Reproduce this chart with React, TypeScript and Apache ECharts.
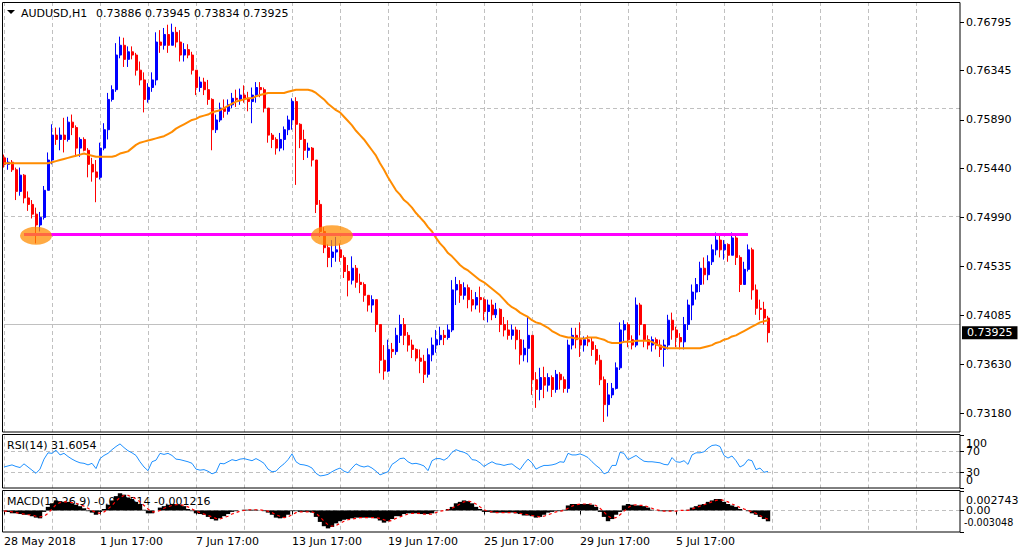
import React, { useEffect, useRef } from "react";
import * as echarts from "echarts";

// ---------------- data (4-hour buckets of the H1 AUDUSD chart) ----------------
const symbolTitle = "AUDUSD,H1";
const lastBar = { open: 0.73886, high: 0.73945, low: 0.73834, close: 0.73925 };
const rsiLast = 31.6054;
const macdLast = -0.001514;
const signalLast = -0.001216;

const dateTickLabels = [
  "28 May 2018", "1 Jun 17:00", "7 Jun 17:00", "13 Jun 17:00",
  "19 Jun 17:00", "25 Jun 17:00", "29 Jun 17:00", "5 Jul 17:00",
];
const priceTicks = [0.76795, 0.76345, 0.7589, 0.7544, 0.7499, 0.74535, 0.74085, 0.7363, 0.7318];
const rsiTicks = [100, 70, 30, 0];
const rsiGuides = [70, 30];
const macdTicks = [0.002743, 0, -0.003048];

const open = [
  0.7554,0.7548,0.7550,0.7543,0.7523,0.7538,0.7517,0.7511,0.7502,0.7492,
  0.7499,0.7524,0.7552,0.7575,0.7571,0.7575,0.7571,0.7587,0.7582,0.7563,
  0.7571,0.7561,0.7548,0.7541,0.7536,0.7563,0.7580,0.7608,0.7617,0.7649,
  0.7658,0.7645,0.7652,0.7649,0.7635,0.7626,0.7608,0.7619,0.7626,0.7661,
  0.7658,0.7668,0.7658,0.7670,0.7661,0.7649,0.7654,0.7649,0.7635,0.7619,
  0.7624,0.7617,0.7608,0.7580,0.7589,0.7600,0.7597,0.7603,0.7609,0.7608,
  0.7612,0.7609,0.7606,0.7612,0.7619,0.7617,0.7600,0.7575,0.7571,0.7563,
  0.7571,0.7580,0.7589,0.7606,0.7585,0.7571,0.7561,0.7563,0.7552,0.7511,
  0.7486,0.7471,0.7462,0.7467,0.7469,0.7462,0.7449,0.7441,0.7452,0.7439,
  0.7437,0.7427,0.7418,0.7423,0.7400,0.7367,0.7357,0.7377,0.7375,0.7390,
  0.7400,0.7390,0.7381,0.7377,0.7369,0.7366,0.7354,0.7372,0.7381,0.7386,
  0.7390,0.7388,0.7395,0.7432,0.7437,0.7427,0.7434,0.7423,0.7418,0.7425,
  0.7423,0.7412,0.7418,0.7409,0.7414,0.7400,0.7395,0.7390,0.7395,0.7386,
  0.7372,0.7378,0.7390,0.7349,0.7340,0.7351,0.7344,0.7351,0.7340,0.7354,
  0.7349,0.7341,0.7381,0.7390,0.7386,0.7381,0.7386,0.7384,0.7377,0.7367,
  0.7349,0.7326,0.7335,0.7341,0.7360,0.7395,0.7400,0.7386,0.7381,0.7418,
  0.7400,0.7386,0.7381,0.7386,0.7381,0.7377,0.7381,0.7404,0.7395,0.7388,
  0.7384,0.7400,0.7418,0.7430,0.7437,0.7452,0.7446,0.7458,0.7469,0.7478,
  0.7469,0.7474,0.7464,0.7480,0.7462,0.7437,0.7451,0.7469,0.7432,0.7415,
  0.7414,0.7406,
];
const high = [
  0.7557,0.7554,0.7552,0.7545,0.7545,0.7539,0.7523,0.7515,0.7508,0.7504,
  0.7528,0.7559,0.7585,0.7582,0.7582,0.7591,0.7592,0.7594,0.7584,0.7573,
  0.7573,0.7563,0.7554,0.7552,0.7568,0.7586,0.7614,0.7621,0.7660,0.7666,
  0.7665,0.7657,0.7657,0.7651,0.7643,0.7633,0.7623,0.7633,0.7670,0.7672,
  0.7674,0.7677,0.7678,0.7675,0.7672,0.7660,0.7659,0.7652,0.7635,0.7629,
  0.7628,0.7626,0.7609,0.7594,0.7605,0.7608,0.7608,0.7614,0.7617,0.7618,
  0.7621,0.7615,0.7619,0.7624,0.7624,0.7619,0.7600,0.7577,0.7573,0.7577,
  0.7583,0.7593,0.7609,0.7610,0.7586,0.7580,0.7568,0.7564,0.7552,0.7515,
  0.7490,0.7474,0.7478,0.7481,0.7475,0.7464,0.7455,0.7463,0.7455,0.7447,
  0.7439,0.7427,0.7427,0.7423,0.7400,0.7381,0.7386,0.7383,0.7397,0.7409,
  0.7406,0.7393,0.7386,0.7378,0.7377,0.7372,0.7378,0.7388,0.7395,0.7398,
  0.7395,0.7400,0.7441,0.7444,0.7441,0.7439,0.7437,0.7432,0.7430,0.7435,
  0.7425,0.7423,0.7423,0.7420,0.7415,0.7407,0.7404,0.7400,0.7398,0.7395,
  0.7386,0.7407,0.7390,0.7356,0.7360,0.7361,0.7355,0.7353,0.7358,0.7356,
  0.7352,0.7386,0.7397,0.7397,0.7402,0.7389,0.7390,0.7388,0.7381,0.7372,
  0.7352,0.7346,0.7346,0.7365,0.7402,0.7404,0.7402,0.7390,0.7425,0.7420,
  0.7400,0.7390,0.7389,0.7388,0.7386,0.7386,0.7409,0.7411,0.7398,0.7392,
  0.7407,0.7423,0.7437,0.7443,0.7458,0.7462,0.7464,0.7474,0.7485,0.7483,
  0.7478,0.7475,0.7485,0.7483,0.7464,0.7458,0.7474,0.7471,0.7437,0.7423,
  0.7421,0.7408,
];
const low = [
  0.7545,0.7543,0.7541,0.7515,0.7519,0.7512,0.7505,0.7498,0.7475,0.7486,
  0.7497,0.7524,0.7548,0.7566,0.7561,0.7559,0.7569,0.7575,0.7555,0.7555,
  0.7560,0.7536,0.7532,0.7513,0.7534,0.7561,0.7571,0.7606,0.7615,0.7646,
  0.7638,0.7638,0.7645,0.7630,0.7621,0.7596,0.7605,0.7615,0.7621,0.7651,
  0.7654,0.7651,0.7658,0.7656,0.7643,0.7643,0.7646,0.7631,0.7612,0.7615,
  0.7612,0.7603,0.7561,0.7577,0.7587,0.7591,0.7594,0.7600,0.7601,0.7603,
  0.7605,0.7597,0.7586,0.7605,0.7610,0.7596,0.7568,0.7563,0.7557,0.7560,
  0.7561,0.7575,0.7580,0.7529,0.7563,0.7552,0.7554,0.7546,0.7503,0.7481,
  0.7466,0.7453,0.7453,0.7458,0.7458,0.7443,0.7426,0.7437,0.7434,0.7429,
  0.7421,0.7412,0.7411,0.7393,0.7355,0.7349,0.7356,0.7369,0.7372,0.7383,
  0.7381,0.7375,0.7369,0.7366,0.7355,0.7346,0.7351,0.7366,0.7374,0.7381,
  0.7381,0.7386,0.7393,0.7418,0.7420,0.7423,0.7415,0.7412,0.7414,0.7411,
  0.7404,0.7402,0.7404,0.7406,0.7393,0.7389,0.7386,0.7386,0.7377,0.7363,
  0.7366,0.7365,0.7335,0.7323,0.7330,0.7332,0.7338,0.7333,0.7337,0.7340,
  0.7337,0.7337,0.7377,0.7378,0.7370,0.7375,0.7380,0.7371,0.7363,0.7344,
  0.7310,0.7315,0.7332,0.7340,0.7358,0.7383,0.7379,0.7377,0.7379,0.7390,
  0.7379,0.7377,0.7375,0.7377,0.7370,0.7361,0.7377,0.7386,0.7379,0.7377,
  0.7377,0.7395,0.7404,0.7423,0.7430,0.7437,0.7441,0.7455,0.7464,0.7462,
  0.7460,0.7458,0.7464,0.7455,0.7430,0.7437,0.7449,0.7423,0.7409,0.7404,
  0.7400,0.73834,
];
const close = [
  0.7548,0.7550,0.7543,0.7523,0.7538,0.7517,0.7511,0.7502,0.7492,0.7499,
  0.7524,0.7552,0.7575,0.7571,0.7575,0.7571,0.7587,0.7582,0.7563,0.7571,
  0.7561,0.7548,0.7541,0.7536,0.7563,0.7580,0.7608,0.7617,0.7649,0.7658,
  0.7645,0.7652,0.7649,0.7635,0.7626,0.7608,0.7619,0.7626,0.7661,0.7658,
  0.7668,0.7658,0.7670,0.7661,0.7649,0.7654,0.7649,0.7635,0.7619,0.7624,
  0.7617,0.7608,0.7580,0.7589,0.7600,0.7597,0.7603,0.7609,0.7608,0.7612,
  0.7609,0.7606,0.7612,0.7619,0.7617,0.7600,0.7575,0.7571,0.7563,0.7571,
  0.7580,0.7589,0.7606,0.7585,0.7571,0.7561,0.7563,0.7552,0.7511,0.7486,
  0.7471,0.7462,0.7467,0.7469,0.7462,0.7449,0.7441,0.7452,0.7439,0.7437,
  0.7427,0.7418,0.7423,0.7400,0.7367,0.7357,0.7377,0.7375,0.7390,0.7400,
  0.7390,0.7381,0.7377,0.7369,0.7366,0.7354,0.7372,0.7381,0.7386,0.7390,
  0.7388,0.7395,0.7432,0.7437,0.7427,0.7434,0.7423,0.7418,0.7425,0.7423,
  0.7412,0.7418,0.7409,0.7414,0.7400,0.7395,0.7390,0.7395,0.7386,0.7372,
  0.7378,0.7390,0.7349,0.7340,0.7351,0.7344,0.7351,0.7340,0.7354,0.7349,
  0.7341,0.7381,0.7390,0.7386,0.7381,0.7386,0.7384,0.7377,0.7367,0.7349,
  0.7326,0.7335,0.7341,0.7360,0.7395,0.7400,0.7386,0.7381,0.7418,0.7400,
  0.7386,0.7381,0.7386,0.7381,0.7377,0.7381,0.7404,0.7395,0.7388,0.7384,
  0.7400,0.7418,0.7430,0.7437,0.7452,0.7446,0.7458,0.7469,0.7478,0.7469,
  0.7474,0.7464,0.7480,0.7462,0.7437,0.7451,0.7469,0.7432,0.7415,0.7414,
  0.7406,0.73925,
];
const movingAverage = [
  0.7549,0.7549,0.7549,0.7549,0.7549,0.7549,0.7549,0.7549,0.7549,0.7549,
  0.7549,0.7549,0.7550,0.7551,0.7552,0.7553,0.7554,0.7555,0.7556,0.7557,
  0.7558,0.7557,0.7556,0.7555,0.7555,0.7555,0.7555,0.7555,0.7556,0.7558,
  0.7559,0.7560,0.7563,0.7566,0.7568,0.7569,0.7570,0.7571,0.7572,0.7573,
  0.7574,0.7576,0.7578,0.7581,0.7583,0.7585,0.7587,0.7589,0.7590,0.7592,
  0.7593,0.7594,0.7596,0.7597,0.7598,0.7600,0.7602,0.7604,0.7606,0.7607,
  0.7608,0.7609,0.7609,0.7611,0.7612,0.7613,0.7614,0.7614,0.7614,0.7614,
  0.7614,0.7615,0.7616,0.7617,0.7617,0.7617,0.7617,0.7616,0.7614,0.7611,
  0.7608,0.7604,0.7601,0.7598,0.7596,0.7592,0.7588,0.7584,0.7579,0.7575,
  0.7571,0.7566,0.7561,0.7556,0.7549,0.7543,0.7536,0.7530,0.7524,0.7520,
  0.7515,0.7512,0.7508,0.7503,0.7499,0.7495,0.7490,0.7486,0.7480,0.7475,
  0.7471,0.7466,0.7463,0.7459,0.7455,0.7452,0.7450,0.7447,0.7444,0.7441,
  0.7439,0.7436,0.7433,0.7430,0.7427,0.7423,0.7419,0.7416,0.7414,0.7411,
  0.7409,0.7407,0.7404,0.7402,0.7401,0.7399,0.7397,0.7394,0.7392,0.7390,
  0.7389,0.7388,0.7388,0.7387,0.7387,0.7387,0.7388,0.7388,0.7388,0.7387,
  0.7386,0.7384,0.7383,0.7383,0.7383,0.7384,0.7384,0.7384,0.7385,0.7385,
  0.7385,0.7385,0.7384,0.7382,0.7380,0.7379,0.7378,0.7378,0.7378,0.7378,
  0.7378,0.7378,0.7378,0.7378,0.7378,0.7379,0.7380,0.7381,0.7383,0.7384,
  0.7386,0.7387,0.7389,0.7390,0.7392,0.7394,0.7396,0.7398,0.7400,0.7402,
  0.7403,0.7404,
];
const rsi = [
  40,42,44,41,39,46,40,34,28,36,
  55,67,66,72,63,66,60,55,51,48,
  47,44,47,37,56,62,66,73,79,84,
  77,71,67,62,50,40,33,50,53,66,
  64,66,62,55,54,52,50,47,36,34,
  35,32,27,30,47,46,50,54,52,55,
  56,54,52,56,52,47,36,31,32,40,
  46,54,65,50,45,44,42,38,28,23,
  24,26,31,35,38,32,29,38,46,42,
  40,42,38,32,25,28,31,45,50,56,
  57,50,46,47,45,42,33,52,56,56,
  53,58,68,73,70,68,64,54,53,48,
  41,46,50,46,45,43,45,46,40,35,
  46,55,48,36,40,43,43,44,46,50,
  49,66,63,63,65,62,58,50,43,37,
  27,30,43,43,68,66,54,58,62,56,
  51,50,50,49,48,45,44,58,50,49,
  52,45,63,67,67,69,76,81,82,79,
  62,57,61,52,40,44,54,52,35,38,
  30,31.6054,
];
const macdMain = [
  -0.0001,-0.0002,-0.0004,-0.0004,-0.0005,-0.0006,-0.0006,-0.0008,-0.0010,-0.0011,
  -0.0002,0.0005,0.0010,0.0014,0.0013,0.0012,0.0012,0.0010,0.0008,0.0006,
  0.0003,-0.0001,-0.0003,-0.0006,-0.0002,0.0002,0.0008,0.0014,0.0020,0.0024,
  0.0022,0.0018,0.0016,0.0012,0.0008,0.0001,-0.0004,-0.0004,0.0000,0.0004,
  0.0006,0.0008,0.0009,0.0009,0.0008,0.0006,0.0002,-0.0001,-0.0004,-0.0005,
  -0.0006,-0.0009,-0.0012,-0.0014,-0.0011,-0.0008,-0.0005,-0.0002,-0.0001,0.0000,
  0.0001,0.0001,0.0001,0.0001,0.0000,-0.0001,-0.0003,-0.0006,-0.0010,-0.0011,
  -0.0010,-0.0006,-0.0001,-0.0001,-0.0002,-0.0002,-0.0002,-0.0003,-0.0009,-0.0016,
  -0.0022,-0.0025,-0.0023,-0.0018,-0.0015,-0.0013,-0.0012,-0.0011,-0.0010,-0.0010,
  -0.0010,-0.0010,-0.0010,-0.0011,-0.0014,-0.0017,-0.0015,-0.0012,-0.0008,-0.0008,
  -0.0005,-0.0004,-0.0004,-0.0004,-0.0005,-0.0005,-0.0005,-0.0004,-0.0001,0.0000,
  0.0000,0.0002,0.0005,0.0010,0.0012,0.0014,0.0013,0.0010,0.0005,0.0002,
  -0.0002,-0.0002,-0.0003,-0.0003,-0.0003,-0.0003,-0.0003,-0.0003,-0.0004,-0.0005,
  -0.0007,-0.0007,-0.0008,-0.0010,-0.0009,-0.0006,-0.0003,-0.0002,-0.0001,-0.0001,
  0.0001,0.0007,0.0009,0.0009,0.0009,0.0009,0.0009,0.0008,0.0005,-0.0002,
  -0.0009,-0.0015,-0.0012,-0.0006,-0.0002,0.0007,0.0009,0.0008,0.0007,0.0007,
  0.0006,0.0004,0.0001,0.0000,-0.0001,-0.0001,-0.0001,-0.0001,0.0000,0.0000,
  0.0000,0.0001,0.0004,0.0006,0.0008,0.0009,0.0012,0.0014,0.0016,0.0016,
  0.0012,0.0009,0.0007,0.0005,0.0002,0.0000,-0.0001,-0.0004,-0.0006,-0.0009,
  -0.0012,-0.001514,
];
const macdSignal = [
  -0.0001,-0.0001,-0.0002,-0.0003,-0.0004,-0.0005,-0.0006,-0.0006,-0.0008,-0.0009,
  -0.0008,-0.0004,0.0002,0.0008,0.0011,0.0012,0.0012,0.0011,0.0010,0.0008,
  0.0006,0.0003,0.0000,-0.0003,-0.0004,-0.0002,0.0002,0.0007,0.0013,0.0018,
  0.0021,0.0021,0.0019,0.0016,0.0012,0.0007,0.0002,-0.0002,-0.0002,0.0000,
  0.0003,0.0005,0.0007,0.0008,0.0008,0.0007,0.0005,0.0002,-0.0001,-0.0003,
  -0.0005,-0.0007,-0.0009,-0.0011,-0.0012,-0.0010,-0.0008,-0.0005,-0.0003,-0.0001,
  0.0000,0.0001,0.0001,0.0001,0.0001,0.0000,-0.0001,-0.0003,-0.0006,-0.0008,
  -0.0010,-0.0009,-0.0006,-0.0003,-0.0002,-0.0002,-0.0002,-0.0002,-0.0004,-0.0009,
  -0.0015,-0.0020,-0.0022,-0.0021,-0.0018,-0.0015,-0.0013,-0.0012,-0.0011,-0.0010,
  -0.0010,-0.0010,-0.0010,-0.0010,-0.0011,-0.0013,-0.0015,-0.0014,-0.0011,-0.0009,
  -0.0007,-0.0005,-0.0004,-0.0004,-0.0004,-0.0005,-0.0005,-0.0005,-0.0003,-0.0001,
  0.0000,0.0001,0.0003,0.0006,0.0009,0.0012,0.0013,0.0012,0.0009,0.0005,
  0.0001,-0.0001,-0.0002,-0.0003,-0.0003,-0.0003,-0.0003,-0.0003,-0.0003,-0.0004,
  -0.0005,-0.0006,-0.0007,-0.0008,-0.0009,-0.0008,-0.0006,-0.0004,-0.0002,-0.0001,
  0.0000,0.0003,0.0006,0.0008,0.0009,0.0009,0.0009,0.0009,0.0007,0.0003,
  -0.0002,-0.0008,-0.0011,-0.0010,-0.0006,-0.0001,0.0004,0.0007,0.0008,0.0007,
  0.0007,0.0005,0.0003,0.0001,0.0000,-0.0001,-0.0001,-0.0001,-0.0001,0.0000,
  0.0000,0.0000,0.0002,0.0004,0.0006,0.0008,0.0010,0.0012,0.0014,0.0015,
  0.0014,0.0012,0.0009,0.0007,0.0004,0.0002,0.0000,-0.0002,-0.0004,-0.0007,
  -0.0010,-0.001216,
];

// support level drawn by hand on the chart (magenta) and the two touch points
const supportLevel = { price: 0.74836, fromSlot: 5, toSlot: 186 };
const touchPoints = [
  { slot: 8, price: 0.7482 },
  { slot: 82, price: 0.7482 },
];

// ---------------- layout / style ----------------
const FONT = '"DejaVu Sans", Tahoma, sans-serif';
const SLOT_COUNT = 240;
const SLOTS_PER_LABEL = 24;
const SLOTS_PER_GRIDLINE = 12;
const PRICE_MIN = 0.73007;
const PRICE_MAX = 0.7698;
const GRID_LEFT = 4;
const GRID_RIGHT = 60;
const RSI_TOP = 435.5;
const RSI_H = 52.5;
const MACD_TOP = 490.8;
const MACD_H = 41.5;
const touchSizes = [[32, 18], [42, 21]];

const txt = { fontFamily: FONT, fontSize: 11, color: "#000" };
const dashed = { color: "#C0C0C0", type: [4, 3], width: 1 };

const clamp = (v: number, a: number, b: number) => Math.min(b, Math.max(a, v));

function buildOption() {
  const slots = Array.from({ length: SLOT_COUNT }, (_, i) => String(i));
  const candles = close.map((c, i) => [open[i], c, low[i], high[i]]);
  const isLabelSlot = (i: number) =>
    i % SLOTS_PER_LABEL === 0 && i / SLOTS_PER_LABEL < dateTickLabels.length;

  const xAxisFor = (gridIndex: number, bottom: boolean) => ({
    type: "category",
    gridIndex,
    data: slots,
    boundaryGap: false,
    axisLine: { show: false },
    axisTick: bottom
      ? { show: true, interval: (i: number) => isLabelSlot(i), length: 4, lineStyle: { color: "#000" } }
      : { show: false },
    axisLabel: bottom
      ? {
          show: true,
          interval: (i: number) => isLabelSlot(i),
          formatter: (_v: string, i: number) =>
            isLabelSlot(i) ? dateTickLabels[i / SLOTS_PER_LABEL] : "",
          align: "left",
          margin: 4,
          ...txt,
        }
      : { show: false },
    splitLine: { show: true, interval: SLOTS_PER_GRIDLINE - 1, lineStyle: dashed },
  });

  const gridBase = { left: GRID_LEFT, right: GRID_RIGHT, outerBoundsMode: "none", containLabel: false };

  // indicator scale labels (MT4 keeps the extreme labels inside the pane)
  const rsiLabelY = (v: number) =>
    clamp(RSI_TOP + ((100 - v) / 100) * RSI_H, RSI_TOP + 7.5, RSI_TOP + RSI_H - 7.5);
  const macdMax = macdTicks[0];
  const macdMin = macdTicks[2];
  const macdLabelY = (v: number) =>
    clamp(MACD_TOP + ((macdMax - v) / (macdMax - macdMin)) * MACD_H, MACD_TOP + 9.2, MACD_TOP + MACD_H - 10);
  const scaleText = (label: string, y: number, size = 11) => ({
    type: "text", z: 100, silent: true, x: 966, y,
    style: { text: label, font: `${size}px ${FONT}`, fill: "#000", verticalAlign: "middle" },
  });
  const indicatorLabels = [
    ...rsiTicks.map((v) => scaleText(String(v), rsiLabelY(v))),
    ...macdTicks.map((v) =>
      v === 0
        ? scaleText("0.00", macdLabelY(v))
        : v < 0
        ? { ...scaleText(v.toFixed(6), macdLabelY(v), 9.6), x: 964 }
        : scaleText(v.toFixed(6), macdLabelY(v))
    ),
  ];

  return {
    animation: false,
    backgroundColor: "#fff",
    grid: [
      { ...gridBase, top: 2, height: 430 },
      { ...gridBase, top: RSI_TOP, height: RSI_H },
      { ...gridBase, top: MACD_TOP, height: MACD_H },
    ],
    xAxis: [xAxisFor(0, false), xAxisFor(1, false), xAxisFor(2, true)],
    yAxis: [
      {
        type: "value",
        gridIndex: 0,
        position: "right",
        min: PRICE_MIN,
        max: PRICE_MAX,
        axisLine: { show: false },
        splitLine: { show: false },
        axisTick: { show: true, length: 4, customValues: priceTicks, lineStyle: { color: "#000" } },
        axisLabel: { customValues: priceTicks, formatter: (v: number) => v.toFixed(5), margin: 6, ...txt },
      },
      {
        type: "value",
        gridIndex: 1,
        position: "right",
        min: 0,
        max: 100,
        axisLine: { show: false },
        splitLine: { show: false },
        axisTick: { show: true, length: 4, customValues: rsiTicks, lineStyle: { color: "#000" } },
        axisLabel: { show: false },
      },
      {
        type: "value",
        gridIndex: 2,
        position: "right",
        min: macdMin,
        max: macdMax,
        axisLine: { show: false },
        splitLine: { show: false },
        axisTick: { show: true, length: 4, customValues: macdTicks, lineStyle: { color: "#000" } },
        axisLabel: { show: false },
      },
      {
        // current-price tag on the price scale
        type: "value",
        gridIndex: 0,
        position: "right",
        min: PRICE_MIN,
        max: PRICE_MAX,
        axisLine: { show: false },
        splitLine: { show: false },
        axisTick: { show: false },
        axisLabel: {
          customValues: [lastBar.close],
          formatter: (v: number) => v.toFixed(5),
          margin: 2,
          fontFamily: FONT,
          fontSize: 11,
          color: "#fff",
          backgroundColor: "#000",
          padding: [1, 5, 1, 5],
        },
      },
    ],
    graphic: [
      { type: "rect", z: 100, silent: true, shape: { x: 2.5, y: 2.5, width: 957.5, height: 429.5 }, style: { fill: "none", stroke: "#000", lineWidth: 1 } },
      { type: "rect", z: 100, silent: true, shape: { x: 2.5, y: 434.5, width: 957.5, height: 53.5 }, style: { fill: "none", stroke: "#000", lineWidth: 1 } },
      { type: "rect", z: 100, silent: true, shape: { x: 2.5, y: 490.5, width: 957.5, height: 41.5 }, style: { fill: "none", stroke: "#000", lineWidth: 1 } },
      { type: "polygon", z: 100, silent: true, shape: { points: [[7, 10], [15, 10], [11, 14]] }, style: { fill: "#000" } },
      { type: "text", z: 100, silent: true, x: 21, y: 13, style: { text: symbolTitle, font: `11px ${FONT}`, fill: "#000", verticalAlign: "middle" } },
      {
        type: "text", z: 100, silent: true, x: 96, y: 13,
        style: {
          text: [lastBar.open, lastBar.high, lastBar.low, lastBar.close].map((v) => v.toFixed(5)).join(" "),
          font: `11px ${FONT}`, fill: "#000", verticalAlign: "middle",
        },
      },
      { type: "text", z: 100, silent: true, x: 7, y: 445, style: { text: `RSI(14) ${rsiLast.toFixed(4)}`, font: `11px ${FONT}`, fill: "#000", verticalAlign: "middle" } },
      {
        type: "text", z: 0, silent: true, x: 7, y: 501.5,
        style: { text: `MACD(12,26,9) ${macdLast.toFixed(6)} ${signalLast.toFixed(6)}`, font: `11px ${FONT}`, fill: "#000", verticalAlign: "middle" },
      },
      ...indicatorLabels,
    ],
    series: [
      {
        type: "candlestick",
        xAxisIndex: 0,
        yAxisIndex: 0,
        data: candles,
        barWidth: 2.5,
        z: 2,
        itemStyle: { color: "#0000FF", color0: "#FF0000", borderColor: "#0000FF", borderColor0: "#FF0000", borderWidth: 1 },
        markLine: {
          z: 1,
          silent: true,
          animation: false,
          symbol: ["none", "none"],
          label: { show: false },
          lineStyle: dashed,
          data: [
            ...priceTicks.map((v) => ({ yAxis: v })),
            { yAxis: lastBar.close, lineStyle: { color: "#C0C0C0", type: "solid", width: 1 } },
          ],
        },
      },
      {
        type: "line",
        xAxisIndex: 0,
        yAxisIndex: 0,
        data: movingAverage,
        showSymbol: false,
        symbol: "none",
        z: 3,
        lineStyle: { color: "#FF8C00", width: 2 },
        markLine: {
          z: 4,
          silent: true,
          animation: false,
          symbol: ["none", "none"],
          label: { show: false },
          lineStyle: { color: "#FF00FF", width: 3, type: "solid" },
          data: [
            [
              { coord: [String(supportLevel.fromSlot), supportLevel.price] },
              { coord: [String(supportLevel.toSlot), supportLevel.price] },
            ],
          ],
        },
      },
      {
        type: "scatter",
        xAxisIndex: 0,
        yAxisIndex: 0,
        z: 6,
        silent: true,
        data: touchPoints.map((p, i) => ({ value: [String(p.slot), p.price], symbolSize: touchSizes[i] })),
        symbol: "circle",
        itemStyle: { color: "rgba(255,140,0,0.92)" },
      },
      {
        type: "line",
        xAxisIndex: 1,
        yAxisIndex: 1,
        data: rsi,
        showSymbol: false,
        symbol: "none",
        z: 3,
        lineStyle: { color: "#1E90FF", width: 1 },
        markLine: {
          z: 1,
          silent: true,
          animation: false,
          symbol: ["none", "none"],
          label: { show: false },
          lineStyle: dashed,
          data: rsiGuides.map((v) => ({ yAxis: v })),
        },
      },
      {
        type: "bar",
        xAxisIndex: 2,
        yAxisIndex: 2,
        data: macdMain,
        barWidth: 4.4,
        z: 2,
        itemStyle: { color: "#000" },
        markLine: {
          z: 1,
          silent: true,
          animation: false,
          symbol: ["none", "none"],
          label: { show: false },
          lineStyle: dashed,
          data: [{ yAxis: 0 }],
        },
      },
      {
        type: "line",
        xAxisIndex: 2,
        yAxisIndex: 2,
        data: macdSignal,
        showSymbol: false,
        symbol: "none",
        z: 3,
        lineStyle: { color: "#FF0000", width: 1.2, type: [3, 3] },
      },
    ],
  };
}

export default function App() {
  const ref = useRef<HTMLDivElement>(null);
  useEffect(() => {
    document.body.style.margin = "0";
    const chart = echarts.init(ref.current as HTMLDivElement, null, { renderer: "svg" });
    chart.setOption(buildOption() as any);
    return () => chart.dispose();
  }, []);
  return (
    <div
      ref={ref}
      style={{ position: "absolute", left: 0, top: 0, width: 1020, height: 556, background: "#fff" }}
    />
  );
}
